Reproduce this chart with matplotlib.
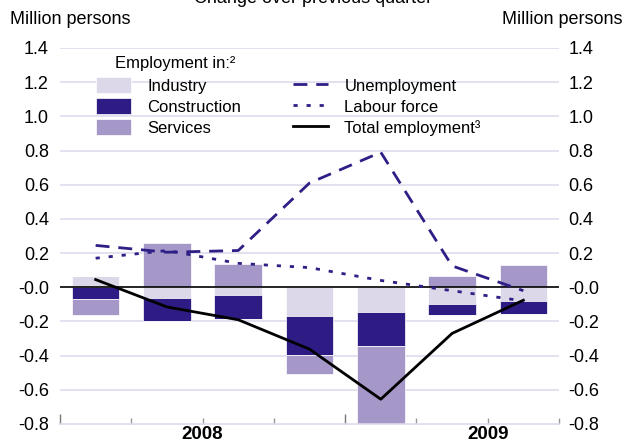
#!/usr/bin/env python3
"""Employment change over previous quarter, 2008Q1-2009Q3 (stacked bars + lines)."""
import numpy as np
import matplotlib
matplotlib.use("Agg")
import matplotlib.pyplot as plt
from matplotlib.ticker import FixedLocator

plt.rcParams["font.family"] = ["Liberation Sans", "DejaVu Sans"]

# data (million persons, change over previous quarter)
quarters = ["2008Q1", "2008Q2", "2008Q3", "2008Q4", "2009Q1", "2009Q2", "2009Q3"]
industry = [0.065, -0.065, -0.043, -0.166, -0.142, -0.100, -0.078]
construction = [-0.070, -0.130, -0.144, -0.230, -0.203, -0.065, -0.078]
services = [-0.090, 0.260, 0.139, -0.114, -0.500, 0.068, 0.133]
unemployment = [0.245, 0.205, 0.215, 0.610, 0.790, 0.125, -0.020]
labour_force = [0.170, 0.215, 0.140, 0.115, 0.040, -0.020, -0.080]
total_employment = [0.045, -0.115, -0.190, -0.362, -0.655, -0.270, -0.076]
years = ["2008", "2009"]
ytick_vals = [-0.8, -0.6, -0.4, -0.2, 0.0, 0.2, 0.4, 0.6, 0.8, 1.0, 1.2, 1.4]
ytick_labels = ["-0.8", "-0.6", "-0.4", "-0.2", "-0.0", "0.2", "0.4", "0.6",
                "0.8", "1.0", "1.2", "1.4"]

C_IND = "#dcd8ea"
C_CON = "#2e1c84"
C_SER = "#a597c7"
C_LINE = "#2e1f86"
C_GRID = "#dedbec"

fig = plt.figure(figsize=(6.33, 4.43), dpi=100)
fig.subplots_adjust(left=60/633, right=559/633, top=1-48/443, bottom=1-424/443)
ax = fig.add_subplot(111)

x = np.arange(len(quarters)) + 0.5
width = 0.667

# stack positives upward and negatives downward separately
pos_base = np.zeros(len(x))
neg_base = np.zeros(len(x))
handles = []
for vals, col, name in [(industry, C_IND, "Industry"),
                        (construction, C_CON, "Construction"),
                        (services, C_SER, "Services")]:
    v = np.array(vals)
    pos = np.where(v > 0, v, 0)
    neg = np.where(v < 0, v, 0)
    b = ax.bar(x, pos, width, bottom=pos_base, color=col, edgecolor="white",
               linewidth=0.5, label=name, zorder=2)
    ax.bar(x, neg, width, bottom=neg_base, color=col, edgecolor="white",
           linewidth=0.5, zorder=2)
    pos_base += pos
    neg_base += neg
    handles.append(b)

l1, = ax.plot(x, unemployment, color=C_LINE, lw=2, dashes=(5, 3.2),
              label="Unemployment", zorder=4)
l2, = ax.plot(x, labour_force, color=C_LINE, lw=2, dashes=(1.5, 3.2),
              label="Labour force", zorder=4)
l3, = ax.plot(x, total_employment, color="black", lw=2,
              label="Total employment³", zorder=5)

ax.set_xlim(0, len(quarters))
ax.set_ylim(-0.8, 1.4)

# grid + zero line
for v in ytick_vals:
    if v == 0:
        ax.axhline(v, color="black", lw=1.2, zorder=3)
    elif v > -0.8:
        ax.axhline(v, color=C_GRID, lw=1.2, zorder=1)

for s in ["top", "left", "right"]:
    ax.spines[s].set_visible(False)
ax.spines["bottom"].set_color(C_GRID)
ax.spines["bottom"].set_linewidth(1.2)

ax.set_yticks(ytick_vals)
ax.set_yticklabels(ytick_labels)
ax.tick_params(axis="y", length=0, pad=8, labelsize=13)

# quarter boundary ticks, longer at year boundaries
ax.set_xticks([0, 4])
ax.set_xticklabels([])
ax.xaxis.set_minor_locator(FixedLocator(np.arange(len(quarters) + 1)))
ax.tick_params(axis="x", which="major", direction="in", length=7, width=1,
               color="#777777")
ax.tick_params(axis="x", which="minor", direction="in", length=4, width=1,
               color="#999999")

for i, yr in enumerate(years):
    ax.text(2 + 4 * i, -0.862, yr, ha="center", va="center", fontsize=13.5,
            fontweight="bold", transform=ax.transData, clip_on=False)

ax2 = ax.twinx()
ax2.set_ylim(ax.get_ylim())
ax2.set_yticks(ytick_vals)
ax2.set_yticklabels(ytick_labels)
ax2.tick_params(axis="y", length=0, pad=7, labelsize=13)
for s in ax2.spines.values():
    s.set_visible(False)

leg = ax.legend(handles + [l1, l2, l3],
                ["Industry", "Construction", "Services",
                 "Unemployment", "Labour force", "Total employment³"],
                ncol=2, frameon=False, fontsize=12, loc="upper left",
                bbox_to_anchor=(0.058, 0.94), handlelength=2.1, handleheight=1.1,
                handletextpad=1.0, columnspacing=3.1, labelspacing=0.25,
                borderaxespad=0)
ax.text(0.11, 0.96, "Employment in:²", transform=ax.transAxes, fontsize=12,
        ha="left", va="center")

fig.text(10/633, 1-20/443, "Million persons", fontsize=13, ha="left", va="center")
fig.text(623/633, 1-20/443, "Million persons", fontsize=13, ha="right", va="center")
fig.text(313/633, 1.004, "Change over previous quarter", fontsize=13,
         ha="center", va="center")

fig.savefig("out.png", dpi=100)
